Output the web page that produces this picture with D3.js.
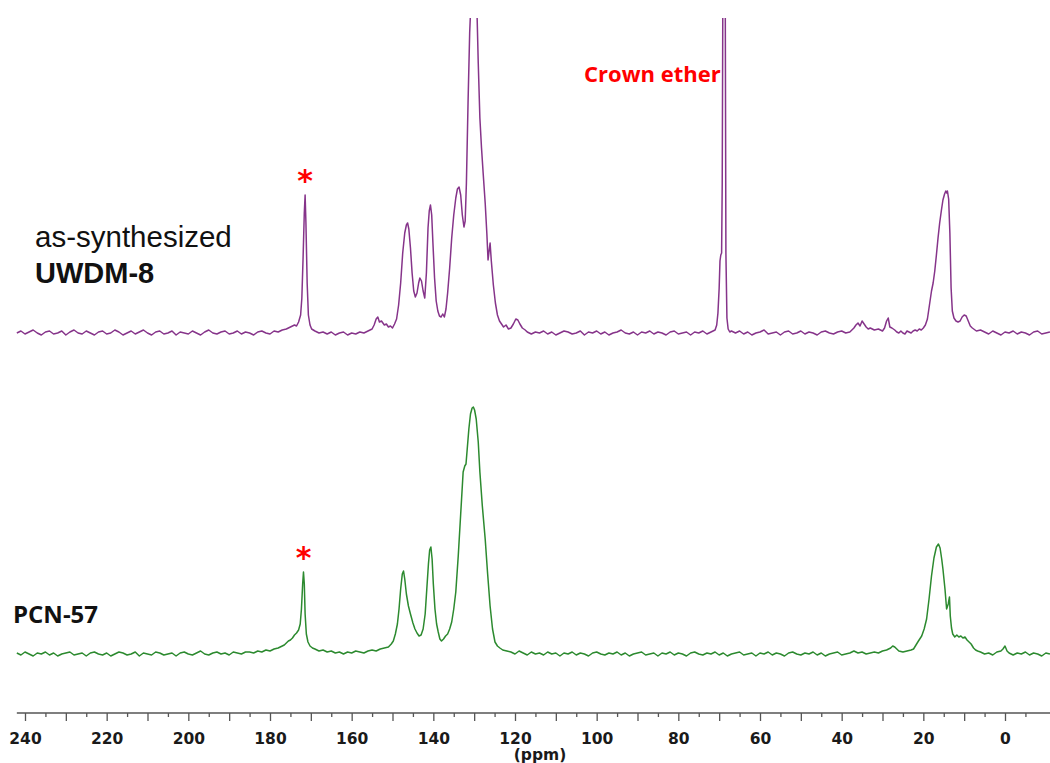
<!DOCTYPE html>
<html>
<head>
<meta charset="utf-8">
<script src="https://cdn.jsdelivr.net/npm/d3@7"></script>
<style>
  html, body { margin: 0; padding: 0; background: #fff; }
  svg { display: block; }
</style>
</head>
<body>
<div id="chart"></div>
<script>
// 13C solid state NMR: [ppm, intensity]
const upperSpectrum = [
  [242,0],[241,2],[240,-1],[239,1],[238,3],[237,0],[236,-2],[235,1],[234,2],[233,-1],[232,0],[231,2],
  [230,-2],[229,1],[228,3],[227,0],[226,-1],[225,2],[224,0],[223,-2],[222,1],[221,2],[220,-1],[219,0],
  [218,3],[217,1],[216,-2],[215,0],[214,2],[213,-1],[212,1],[211,3],[210,0],[209,-2],[208,1],[207,2],
  [206,-1],[205,0],[204,2],[203,-2],[202,1],[201,0],[200,-1],[199,2],[198,0],[197,-2],[196,1],[195,3],
  [194,0],[193,-1],[192,1],[191,2],[190,-1],[189,0],[188,2],[187,-1],[186,1],[185,0],[184,-2],[183,1],
  [182,2],[181,0],[180,-1],[179,2],[178,1],[177,3],[176,4],[175,6],[174,8],[173.5,7],[173,11],[172.5,18],
  [172.2,35],[171.9,75],[171.6,120],[171.4,138],[171.2,110],[170.9,50],[170.6,18],[170.2,8],[169.8,4],
  [169,2],[168,0],[167,1],[166,-1],[165,1],[164,-2],[163,0],[162,1],[161,-2],[160,0],[159,-1],[158,1],
  [157,0],[156,2],[155,4],[154.5,8],[154,14],[153.6,16],[153.2,11],[152.7,12],[152,8],[151.5,9],[151,6],
  [150.5,7],[150,5],[149.5,9],[149,14],[148.5,28],[148,50],[147.5,80],[147,100],[146.6,108],[146.3,110],
  [146,104],[145.6,85],[145.2,60],[144.8,42],[144.4,36],[144,40],[143.6,50],[143.3,55],[142.9,52],
  [142.5,42],[142.1,35],[141.7,60],[141.3,105],[141,122],[140.7,128],[140.4,118],[140.1,90],[139.7,55],
  [139.3,32],[138.9,22],[138.5,17],[138.1,16],[137.7,19],[137.3,16],[136.9,24],[136.5,40],[136,65],
  [135.5,95],[135,118],[134.5,135],[134.1,144],[133.7,146],[133.3,138],[132.9,118],[132.5,106],[132.2,112],
  [131.9,150],[131.5,230],[131.1,300],[130.7,340],[130.2,360],[129.7,345],[129.3,320],[129,270],[128.6,215],
  [128.2,185],[127.8,160],[127.3,130],[126.9,100],[126.6,73],[126.4,80],[126.1,90],[125.8,72],[125.3,48],
  [124.8,30],[124.3,18],[123.8,12],[123.3,9],[122.8,6],[122.2,8],[121.6,4],[121,5],[120.4,9],[119.8,14],
  [119.3,13],[118.8,9],[118.2,5],[117.5,3],[117,1],[116,-1],[115,1],[114,0],[113,2],[112,-1],[111,1],
  [110,-2],[109,0],[108,2],[107,1],[106,-1],[105,0],[104,2],[103,-2],[102,1],[101,0],[100,2],[99,-1],
  [98,1],[97,-2],[96,0],[95,1],[94,3],[93,0],[92,-1],[91,1],[90,-2],[89,1],[88,0],[87,2],[86,-1],[85,1],
  [84,0],[83,-2],[82,1],[81,2],[80,-1],[79,0],[78,1],[77,-2],[76,1],[75,0],[74,2],[73,-1],[72,1],
  [71.5,2],[71,3],[70.6,8],[70.3,20],[70,45],[69.8,72],[69.6,78],[69.4,80],[69.25,150],[69.05,400],
  [68.8,700],[68.55,400],[68.35,80],[68.1,15],[67.8,4],[67.4,1],[67,2],[66,0],[65,2],[64,-1],[63,1],
  [62,-2],[61,0],[60,1],[59,3],[58,-1],[57,0],[56,1],[55,-2],[54,1],[53,2],[52,-1],[51,0],[50,2],[49,-1],
  [48,1],[47,0],[46,-2],[45,1],[44,2],[43,0],[42,-1],[41,1],[40,2],[39,0],[38,1],[37.5,3],[37,5],
  [36.5,8],[36,10],[35.5,7],[35,12],[34.5,9],[34,6],[33.5,4],[33,5],[32,3],[31,4],[30,2],[29.5,5],
  [29,12],[28.6,15],[28.2,6],[27.7,5],[27,3],[26.5,1],[26,0],[25.5,2],[25,0],[24.5,-1],[24,2],[23.5,1],
  [23,0],[22.5,2],[22,3],[21.5,2],[21,4],[20.5,3],[20,5],[19.5,8],[19,14],[18.5,28],[18,42],[17.6,50],
  [17.2,62],[16.8,78],[16.4,95],[16,110],[15.6,122],[15.2,133],[14.8,139],[14.5,142],[14.3,140],
  [14.1,142],[13.8,134],[13.5,100],[13.2,45],[12.9,22],[12.5,15],[12,12],[11.5,11],[11,12],[10.5,16],
  [10,18],[9.5,17],[9,12],[8.5,7],[8,5],[7,2],[6,3],[5,1],[4,-1],[3,2],[2,0],[1,-2],[0,1],[-1,0],
  [-2,2],[-3,-1],[-4,1],[-5,0],[-6,-2],[-7,1],[-8,2],[-9,-1],[-10,0],[-11,1]
];

const lowerSpectrum = [
  [242,1],[241,-1],[240,2],[239,0],[238,-2],[237,1],[236,0],[235,2],[234,-1],[233,1],[232,-2],[231,0],
  [230,1],[229,2],[228,-1],[227,0],[226,1],[225,-2],[224,1],[223,2],[222,0],[221,-1],[220,1],[219,-2],
  [218,0],[217,2],[216,1],[215,-1],[214,0],[213,2],[212,-2],[211,1],[210,0],[209,-1],[208,2],[207,1],
  [206,-1],[205,0],[204,1],[203,-2],[202,1],[201,2],[200,0],[199,-1],[198,1],[197,3],[196,0],[195,-1],
  [194,1],[193,2],[192,0],[191,1],[190,-1],[189,2],[188,1],[187,0],[186,2],[185,2],[184,1],[183,3],
  [182,2],[181,4],[180,3],[179,5],[178,6],[177,8],[176.5,9],[176,11],[175.5,13],[175,14],[174.5,16],
  [174,19],[173.5,21],[173,24],[172.6,30],[172.3,45],[172,70],[171.8,82],[171.6,70],[171.4,40],
  [171.1,20],[170.7,12],[170.2,8],[169.6,6],[169,5],[168,3],[167,4],[166,2],[165,3],[164,1],[163,2],
  [162,0],[161,2],[160,1],[159,3],[158,2],[157,1],[156,3],[155,4],[154,3],[153,5],[152,6],[151,7],
  [150.3,10],[149.8,13],[149.3,20],[148.8,30],[148.4,45],[148,65],[147.6,80],[147.3,83],[147,75],
  [146.6,60],[146.1,48],[145.6,40],[145,31],[144.5,25],[144,21],[143.5,18],[143,19],[142.5,25],[142,40],
  [141.6,65],[141.2,90],[140.9,104],[140.6,107],[140.3,95],[140,70],[139.6,45],[139.2,30],[138.8,22],
  [138.4,15],[138,13],[137.5,15],[137,18],[136.5,20],[136,25],[135.5,32],[135,45],[134.5,62],[133.9,98],
  [133.3,140],[132.7,182],[132.3,188],[132,190],[131.7,205],[131.3,225],[130.9,240],[130.5,246],
  [130.2,247],[129.9,244],[129.5,235],[129,212],[128.6,182],[128,148],[127.3,115],[126.7,80],[126.1,48],
  [125.5,25],[124.9,12],[124.3,8],[123.7,6],[123,4],[122,3],[121,2],[120,0],[119,3],[118,1],[117,-1],
  [116,2],[115,0],[114,1],[113,-1],[112,2],[111,0],[110,1],[109,-2],[108,1],[107,0],[106,2],[105,-1],
  [104,1],[103,0],[102,-2],[101,1],[100,2],[99,0],[98,-1],[97,1],[96,0],[95,2],[94,-1],[93,1],[92,-2],
  [91,0],[90,1],[89,2],[88,-1],[87,0],[86,1],[85,-2],[84,1],[83,0],[82,2],[81,-1],[80,1],[79,0],[78,-2],
  [77,1],[76,2],[75,0],[74,-1],[73,1],[72,0],[71,2],[70,-1],[69,1],[68,-2],[67,0],[66,1],[65,2],[64,-1],
  [63,0],[62,1],[61,-2],[60,1],[59,0],[58,2],[57,-1],[56,1],[55,0],[54,-2],[53,1],[52,2],[51,0],[50,-1],
  [49,1],[48,0],[47,2],[46,-1],[45,1],[44,-2],[43,0],[42,1],[41,2],[40,-1],[39,0],[38,1],[37,3],[36,1],
  [35,2],[34,0],[33,1],[32,2],[31,1],[30,3],[29,4],[28,6],[27.5,8],[27,7],[26.5,5],[26,3],[25,2],[24,3],
  [23,4],[22.4,5],[21.8,9],[21.2,13],[20.4,18],[19.8,25],[19.2,35],[18.6,55],[18,78],[17.4,96],[16.8,107],
  [16.3,110],[15.9,106],[15.5,95],[15.2,85],[14.7,65],[14.3,45],[13.9,50],[13.6,57],[13.4,38],[13.1,26],
  [12.8,20],[12.3,17],[11.8,19],[11.3,17],[10.8,18],[10.3,16],[9.8,17],[9.3,14],[8.8,12],[8.3,10],
  [7.7,6],[7.2,4],[6.7,3],[6,2],[5,0],[4,1],[3,-1],[2,2],[1,3],[0.5,5],[0,8],[-0.5,3],[-1,1],[-2,-1],
  [-3,1],[-4,0],[-5,2],[-6,-1],[-7,1],[-8,0],[-9,-2],[-10,1],[-11,0]
];

const majorTicks = d3.range(240, -1, -10);
const minorTicks = d3.range(235, -6, -10);
const starPeaks = [[171.4, 138], [171.8, 82]];   // upper, lower

const width = 1050;
const height = 763;

const x = d3.scaleLinear().domain([240, 0]).range([25, 1005]);
const yUpper = d3.scaleLinear().domain([0, 315]).range([333, 18]);
const yLower = d3.scaleLinear().domain([0, 315]).range([654, 339]);

const svg = d3.select("#chart").append("svg")
    .attr("width", width)
    .attr("height", height);

svg.append("clipPath")
    .attr("id", "plotClip")
  .append("rect")
    .attr("x", 0)
    .attr("y", 18)
    .attr("width", width)
    .attr("height", 690);

const plot = svg.append("g").attr("clip-path", "url(#plotClip)");

const lineUpper = d3.line().x(d => x(d[0])).y(d => yUpper(d[1]));
const lineLower = d3.line().x(d => x(d[0])).y(d => yLower(d[1]));

plot.append("path")
    .datum(upperSpectrum)
    .attr("fill", "none")
    .attr("stroke", "#86348a")
    .attr("stroke-width", 1.5)
    .attr("stroke-linejoin", "round")
    .attr("d", lineUpper);

plot.append("path")
    .datum(lowerSpectrum)
    .attr("fill", "none")
    .attr("stroke", "#2c8a2f")
    .attr("stroke-width", 1.5)
    .attr("stroke-linejoin", "round")
    .attr("d", lineLower);

// x axis
const axisY = 713;
const axisG = svg.append("g").attr("transform", "translate(0," + axisY + ")");

axisG.append("line")
    .attr("x1", x(242))
    .attr("x2", width)
    .attr("y1", 0)
    .attr("y2", 0)
    .attr("stroke", "#555")
    .attr("stroke-width", 1.5);

const major = axisG.append("g")
    .call(d3.axisBottom(x)
      .tickValues(majorTicks)
      .tickSize(8)
      .tickPadding(12)
      .tickFormat(d => d % 20 === 0 ? d : ""));

const minor = axisG.append("g")
    .call(d3.axisBottom(x)
      .tickValues(minorTicks)
      .tickSize(4)
      .tickFormat(""));

[major, minor].forEach(g => {
  g.select(".domain").remove();
  g.selectAll(".tick line").attr("stroke", "#555").attr("stroke-width", 1.3);
});

major.selectAll(".tick text")
    .style("font-family", "'DejaVu Sans', Verdana, sans-serif")
    .style("font-weight", "bold")
    .style("font-size", "15.5px")
    .attr("fill", "#1a1a1a");

svg.append("text")
    .attr("x", 540)
    .attr("y", 760)
    .attr("text-anchor", "middle")
    .style("font-family", "'DejaVu Sans', Verdana, sans-serif")
    .style("font-weight", "bold")
    .style("font-size", "15.5px")
    .attr("fill", "#1a1a1a")
    .text("(ppm)");

// sample labels
svg.append("text")
    .attr("x", 35)
    .attr("y", 247)
    .style("font-family", "'Liberation Sans', Arial, sans-serif")
    .style("font-size", "29.5px")
    .attr("fill", "#111")
    .text("as-synthesized");

svg.append("text")
    .attr("x", 35)
    .attr("y", 283)
    .style("font-family", "'Liberation Sans', Arial, sans-serif")
    .style("font-weight", "bold")
    .style("font-size", "29px")
    .attr("fill", "#111")
    .text("UWDM-8");

svg.append("text")
    .attr("x", 13)
    .attr("y", 623)
    .style("font-family", "'Open Sans', sans-serif")
    .style("font-weight", "bold")
    .style("font-size", "24px")
    .attr("fill", "#111")
    .text("PCN-57");

svg.append("text")
    .attr("x", 584)
    .attr("y", 82)
    .style("font-family", "'Open Sans', sans-serif")
    .style("font-weight", "bold")
    .style("font-size", "22px")
    .attr("fill", "#ff0000")
    .text("Crown ether");

// asterisks over the ~172 ppm peaks
svg.selectAll("text.star")
    .data(starPeaks)
  .enter().append("text")
    .attr("class", "star")
    .attr("x", d => x(d[0]))
    .attr("y", (d, i) => (i === 0 ? yUpper(d[1]) : yLower(d[1])) - 4)
    .attr("text-anchor", "middle")
    .style("font-family", "'DejaVu Sans', sans-serif")
    .style("font-weight", "bold")
    .style("font-size", "30px")
    .attr("fill", "#ff0000")
    .text("*");
</script>
</body>
</html>
